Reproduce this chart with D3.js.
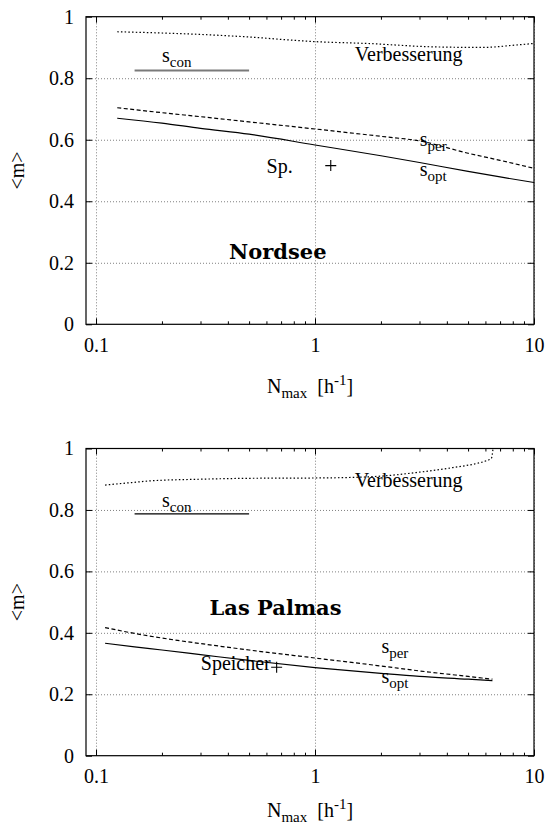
<!DOCTYPE html>
<html>
<head>
<meta charset="utf-8">
<script src="https://cdn.jsdelivr.net/npm/d3@7"></script>
<style>
body { margin: 0; background: #fff; }
text { font-family: "Liberation Serif", "Times New Roman", serif; fill: #000; }
.grid line { stroke: #808080; stroke-width: 1; stroke-dasharray: 1,2; }
.grid path, .axis path { display: none; }
.axis line { stroke: #000; stroke-width: 1; }
.axis text { font-size: 20px; font-family: "Liberation Serif", serif; }
.curve { fill: none; stroke: #000; stroke-width: 1.2; }
.title { font-family: "DejaVu Serif", serif; font-weight: bold; font-size: 21px; }
</style>
</head>
<body>
<svg id="chart" width="545" height="827"></svg>
<script>
// Nordsee (top panel)
const nsN     = [0.125, 0.2, 0.3, 0.5, 1, 2, 3, 5, 7, 10]
const nsOpt   = [0.670, 0.654, 0.637, 0.618, 0.583, 0.548, 0.526, 0.497, 0.479, 0.461]
const nsPer   = [0.704, 0.688, 0.675, 0.658, 0.635, 0.611, 0.596, 0.556, 0.533, 0.507]
const nsVerbN = [0.125, 0.2, 0.33, 0.5, 0.85, 1, 1.73, 3.45, 5.8, 8.3, 10]
const nsVerb  = [0.951, 0.947, 0.941, 0.934, 0.922, 0.919, 0.913, 0.902, 0.900, 0.908, 0.913]
const nsConN  = [0.15, 0.5]
const nsCon   = [0.825, 0.825]
const nsPoint = [1.18, 0.516]

// Las Palmas (bottom panel)
const lpN     = [0.11, 0.15, 0.2, 0.3, 0.5, 1, 2, 3, 5, 6.46]
const lpOpt   = [0.366, 0.354, 0.344, 0.329, 0.310, 0.287, 0.268, 0.258, 0.249, 0.244]
const lpPer   = [0.417, 0.398, 0.383, 0.365, 0.344, 0.318, 0.292, 0.276, 0.258, 0.249]
const lpVerbN = [0.11, 0.15, 0.18, 0.3, 0.5, 1, 1.5, 2, 3, 4.27, 5.6, 6.05, 6.39, 6.5]
const lpVerb  = [0.881, 0.890, 0.895, 0.900, 0.903, 0.904, 0.906, 0.910, 0.923, 0.938, 0.953, 0.960, 0.968, 1.0]
const lpConN  = [0.15, 0.5]
const lpCon   = [0.787, 0.787]
const lpPoint = [0.668, 0.288]

// Axis ticks
const xMajor = [0.1, 1, 10]
const xMinor = [0.2, 0.3, 0.4, 0.5, 0.6, 0.7, 0.8, 0.9, 2, 3, 4, 5, 6, 7, 8, 9]
const yTicks = [0, 0.2, 0.4, 0.6, 0.8, 1]

// Annotations (in data units)
const nsLabels = [
    {text: 's', sub: 'con', x: 0.2, y: 0.854},
    {text: 'Verbesserung', x: 1.52, y: 0.857},
    {text: 's', sub: 'per', x: 3.01, y: 0.580},
    {text: 's', sub: 'opt', x: 3.01, y: 0.482},
    {text: 'Sp.', x: 0.601, y: 0.493}
]
const lpLabels = [
    {text: 's', sub: 'con', x: 0.2, y: 0.809},
    {text: 'Verbesserung', x: 1.52, y: 0.876},
    {text: 's', sub: 'per', x: 2.01, y: 0.333},
    {text: 's', sub: 'opt', x: 2.01, y: 0.236},
    {text: 'Speicher', x: 0.301, y: 0.279}
]

const panels = [
    {top: 16.7, height: 307.6, title: 'Nordsee', titleX: 0.405, titleY: 0.211, xTitleY: 393,
     opt: [nsN, nsOpt], per: [nsN, nsPer], verb: [nsVerbN, nsVerb], con: [nsConN, nsCon],
     conColor: '#7a7a7a', conWidth: 2, point: nsPoint, labels: nsLabels},
    {top: 448.5, height: 307.2, title: 'Las Palmas', titleX: 0.330, titleY: 0.458, xTitleY: 817,
     opt: [lpN, lpOpt], per: [lpN, lpPer], verb: [lpVerbN, lpVerb], con: [lpConN, lpCon],
     conColor: '#000', conWidth: 1.3, point: lpPoint, labels: lpLabels}
]

const left = 86, right = 534
const svg = d3.select('#chart')

const xScale = d3.scaleLog().domain([0.09, 10]).range([left, right])

function zipXY(pair){
    return pair[0].map((d, i) => [d, pair[1][i]])
}

panels.forEach(p => {
    const bottom = p.top + p.height
    const yScale = d3.scaleLinear().domain([0, 1]).range([bottom, p.top])
    const g = svg.append('g')

    // Grid
    g.append('g').attr('class', 'grid')
        .attr('transform', 'translate(0,' + bottom + ')')
        .call(d3.axisBottom(xScale).tickValues(xMajor).tickSize(-p.height).tickFormat(''))
    g.append('g').attr('class', 'grid')
        .attr('transform', 'translate(' + left + ',0)')
        .call(d3.axisLeft(yScale).tickValues([0.2, 0.4, 0.6, 0.8]).tickSize(-(right - left)).tickFormat(''))

    // Border
    g.append('rect')
        .attr('x', left).attr('y', p.top)
        .attr('width', right - left).attr('height', p.height)
        .attr('fill', 'none').attr('stroke', '#000').attr('stroke-width', 1.2)

    // Axes with inward ticks
    g.append('g').attr('class', 'axis')
        .attr('transform', 'translate(0,' + bottom + ')')
        .call(d3.axisBottom(xScale).tickValues(xMajor).tickSize(-6).tickPadding(13.5)
            .tickFormat(d3.format('~g')))
    g.append('g').attr('class', 'axis')
        .attr('transform', 'translate(0,' + bottom + ')')
        .call(d3.axisBottom(xScale).tickValues(xMinor).tickSize(-3).tickFormat(''))
    g.append('g').attr('class', 'axis')
        .attr('transform', 'translate(0,' + p.top + ')')
        .call(d3.axisTop(xScale).tickValues(xMajor).tickSize(-6).tickFormat(''))
    g.append('g').attr('class', 'axis')
        .attr('transform', 'translate(0,' + p.top + ')')
        .call(d3.axisTop(xScale).tickValues(xMinor).tickSize(-3).tickFormat(''))
    g.append('g').attr('class', 'axis')
        .attr('transform', 'translate(' + left + ',0)')
        .call(d3.axisLeft(yScale).tickValues(yTicks).tickSize(-6).tickPadding(12)
            .tickFormat(d3.format('~g')))
    g.append('g').attr('class', 'axis')
        .attr('transform', 'translate(' + right + ',0)')
        .call(d3.axisRight(yScale).tickValues(yTicks).tickSize(-6).tickFormat(''))

    // Curves
    const line = d3.line()
        .x(d => xScale(d[0]))
        .y(d => yScale(d[1]))
        .curve(d3.curveMonotoneX)

    g.append('path').datum(zipXY(p.verb)).attr('class', 'curve')
        .attr('stroke-dasharray', '1.5,2.2').attr('d', line)
    g.append('path').datum(zipXY(p.per)).attr('class', 'curve')
        .attr('stroke-dasharray', '4,2.5').attr('d', line)
    g.append('path').datum(zipXY(p.opt)).attr('class', 'curve')
        .attr('d', line)
    g.append('path').datum(zipXY(p.con)).attr('class', 'curve')
        .style('stroke', p.conColor).style('stroke-width', p.conWidth)
        .attr('d', d3.line().x(d => xScale(d[0])).y(d => yScale(d[1])))

    // Point marker
    g.append('path')
        .attr('transform', 'translate(' + xScale(p.point[0]) + ',' + yScale(p.point[1]) + ')')
        .attr('d', 'M-5.5,0H5.5M0,-5.5V5.5')
        .attr('stroke', '#000').attr('stroke-width', 1.1)

    // Labels
    p.labels.forEach(l => {
        const t = g.append('text')
            .attr('x', xScale(l.x)).attr('y', yScale(l.y))
            .style('font-size', '20px')
            .text(l.text)
        if (l.sub) {
            t.append('tspan').attr('dy', 5).style('font-size', '15px').text(l.sub)
        }
    })

    // Site title
    g.append('text').attr('class', 'title')
        .attr('x', xScale(p.titleX)).attr('y', yScale(p.titleY))
        .text(p.title)

    // Axis titles
    const xt = g.append('text')
        .attr('x', (left + right) / 2).attr('y', p.xTitleY)
        .attr('text-anchor', 'middle')
        .style('font-size', '20px')
    xt.append('tspan').text('N')
    xt.append('tspan').attr('dy', 5).style('font-size', '15px').text('max')
    xt.append('tspan').attr('dy', -5).text('\u00a0 [h')
    xt.append('tspan').attr('dy', -8).style('font-size', '15px').text('-1')
    xt.append('tspan').attr('dy', 8).text(']')

    g.append('text')
        .attr('transform', 'translate(24,' + (p.top + p.height / 2) + ') rotate(-90)')
        .attr('text-anchor', 'middle')
        .style('font-size', '20px')
        .text('<m>')
})
</script>
</body>
</html>
